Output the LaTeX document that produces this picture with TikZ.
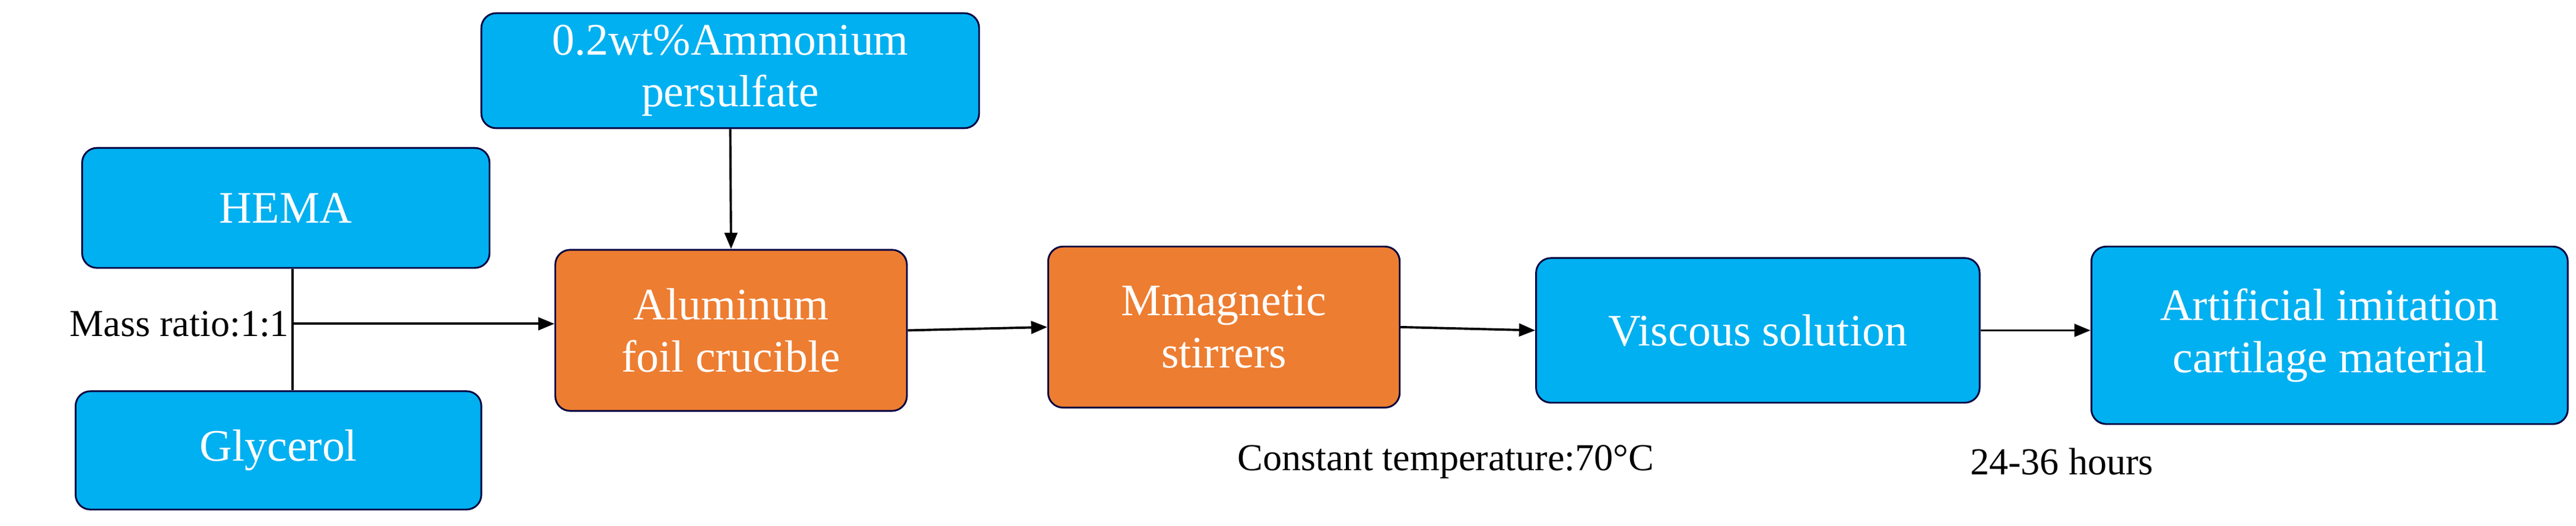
\documentclass[tikz,border=0pt]{standalone}
\usepackage{fontspec}
\setmainfont{Liberation Serif}
\usetikzlibrary{arrows.meta}
\begin{document}
\begin{tikzpicture}[x=0.1cm,y=-0.1cm,
  box/.style={draw=black!75!blue, line width=3pt, rounded corners=0.9cm, align=center, text=white, font=\fontsize{78}{90}\selectfont, inner sep=0pt},
  bluebox/.style={box, fill=cyan!80!blue!85},
  orbox/.style={box, fill=orange!85!red!90!brown},
  lbl/.style={font=\fontsize{66}{78}\selectfont, text=black},
  arr/.style={-{Triangle[length=28pt,width=22pt]}, line width=4pt}]
\useasboundingbox (0,0) rectangle (1568,320);
\definecolor{bb}{HTML}{00B0F0}\definecolor{oo}{HTML}{ED7D31}
\tikzset{bluebox/.style={box, fill=bb}, orbox/.style={box, fill=oo}}
\node[bluebox, minimum width=30.3cm, minimum height=7cm] (amm) at (444.5,43) {0.2wt\%Ammonium\\persulfate};
\node[bluebox, minimum width=24.8cm, minimum height=7.3cm] (hema) at (174,126.5) {HEMA};
\node[bluebox, minimum width=24.7cm, minimum height=7.2cm] (gly) at (169.5,274) {Glycerol};
\node[orbox, minimum width=21.4cm, minimum height=9.8cm] (al) at (445,201) {Aluminum\\foil crucible};
\node[orbox, minimum width=21.4cm, minimum height=9.8cm] (mm) at (745,199) {Mmagnetic\\stirrers};
\node[bluebox, minimum width=27cm, minimum height=8.8cm] (vs) at (1070,201) {Viscous solution};
\node[bluebox, minimum width=29cm, minimum height=10.8cm] (ac) at (1418,204) {Artificial imitation\\cartilage material};
\node[lbl, anchor=east, inner sep=0pt] (mr) at (176,197) {Mass ratio:1:1};
\node[lbl] (ct) at (880,281) {Constant temperature:70°C};
\node[lbl] (hr) at (1255,281) {24-36 hours};
\coordinate (j) at (178,197);
\draw[line width=4pt] (hema.south -| j) -- (gly.north -| j);
\draw[arr] (j) -- (al.west |- j);
\draw[arr] (amm.south) -- (al.north);
\draw[arr] (al.east) -- (mm.west);
\draw[arr] (mm.east) -- (vs.west);
\draw[arr] (vs.east) -- (ac.west |- vs.east);
\end{tikzpicture}
\end{document}
